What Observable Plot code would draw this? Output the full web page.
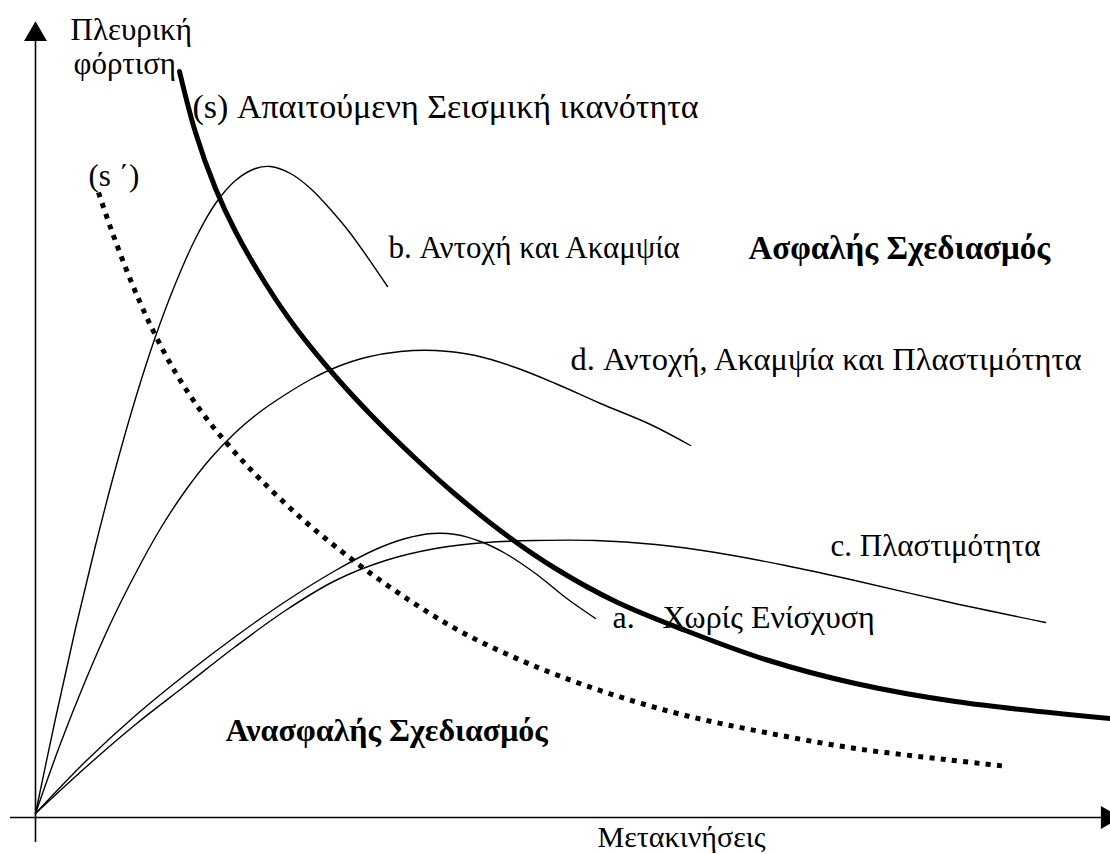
<!DOCTYPE html>
<html>
<head>
<meta charset="utf-8">
<script src="https://cdn.jsdelivr.net/npm/d3@7"></script>
<script src="https://cdn.jsdelivr.net/npm/@observablehq/plot@0.6"></script>
<style>
  html, body { margin: 0; padding: 0; background: #fff; }
</style>
</head>
<body>
<div id="chart"></div>
<script>
// Conceptual curves: displacement (x) vs lateral load (y), arbitrary units
const curveB = [[0,0],[20,95],[40,185],[60,268],[80,345],[100,415],[120,477],[140,530],[160,575],[180,610],[200,633],[220,645],[235,647],[255,640],[275,625],[295,604],[315,580],[352,527]];
const curveD = [[0,0],[25,70],[50,133],[75,190],[100,240],[125,285],[150,323],[175,355],[200,381],[225,402],[250,419],[275,434],[300,446],[330,456],[365,462],[400,463],[440,458],[480,446],[520,430],[565,410],[615,389],[655,368]];
const curveA = [[0,0],[50,52],[100,98],[150,139],[200,177],[250,212],[300,243],[340,264],[370,275],[397,280],[420,279],[445,272],[470,260],[500,240],[530,216],[560,195]];
const curveC = [[0,0],[50,46],[100,89],[150,128],[200,167],[250,203],[300,233],[350,253],[400,265],[450,271],[500,273],[560,273],[620,269],[680,261],[750,248],[815,234],[915,211],[1010,191]];
const demandS = [[144,742],[160,681],[180,625],[200,582],[230,530],[260,486],[300,437],[340,394],[380,355],[420,319],[470,279],[520,245],[580,212],[650,183],[730,154],[820,130],[920,112],[1075,95]];
const demandS2 = [[63,621],[75,586],[90,546],[105,510],[120,478],[140,441],[165,403],[195,366],[225,334],[265,296],[305,263],[345,233],[385,206],[425,182],[470,160],[520,139],[580,118],[650,98],[730,81],[820,65],[910,54],[972,47]];

const labelsNormal = [
  {x: 35, y: 774, text: "Πλευρική"},
  {x: 38, y: 740, text: "φόρτιση"},
  {x: 157, y: 696, text: "(s) Απαιτούμενη Σεισμική ικανότητα"},
  {x: 53, y: 628, text: "(s ΄)"},
  {x: 353, y: 556, text: "b. Αντοχή και Ακαμψία"},
  {x: 535, y: 444, text: "d. Αντοχή, Ακαμψία και Πλαστιμότητα"},
  {x: 795, y: 258, text: "c. Πλαστιμότητα"},
  {x: 577, y: 186, text: "a."},
  {x: 627, y: 186, text: "Χωρίς Ενίσχυση"},
  {x: 562, y: -33, text: "Μετακινήσεις"}
];
const labelsBold = [
  {x: 713, y: 555, text: "Ασφαλής Σχεδιασμός"},
  {x: 190, y: 73, text: "Ανασφαλής Σχεδιασμός"}
];

// presentation only: font size per label
const labelFontSize = {
  "Πλευρική": 31, "φόρτιση": 31,
  "(s) Απαιτούμενη Σεισμική ικανότητα": 34,
  "(s ΄)": 31,
  "b. Αντοχή και Ακαμψία": 31,
  "d. Αντοχή, Ακαμψία και Πλαστιμότητα": 32.5,
  "c. Πλαστιμότητα": 31,
  "a.": 32, "Χωρίς Ενίσχυση": 32,
  "Μετακινήσεις": 30,
  "Ασφαλής Σχεδιασμός": 33,
  "Ανασφαλής Σχεδιασμός": 32
};

const toXY = (arr) => arr.map(([x, y]) => ({x, y}));
const font = "Liberation Serif, Times New Roman, serif";

const thin = {x: "x", y: "y", curve: "catmull-rom", stroke: "black", strokeWidth: 1.4};

const chart = Plot.plot({
  width: 1110,
  height: 854,
  margin: 0,
  x: {domain: [-35, 1075], axis: null},
  y: {domain: [-41, 813], axis: null},
  style: {background: "#fff", color: "black"},
  marks: [
    // axes
    Plot.ruleX([0], {y1: -29, y2: 785, stroke: "black", strokeWidth: 1.6}),
    Plot.ruleY([-4], {x1: -25, x2: 1068, stroke: "black", strokeWidth: 1.6}),
    Plot.dot([{x: 0, y: 779}], {x: "x", y: "y", symbol: "triangle", r: 8.5, fill: "black", stroke: null}),
    Plot.dot([{x: 1072, y: -4}], {x: "x", y: "y", symbol: "triangle", r: 8.5, rotate: 90, fill: "black", stroke: null}),
    // capacity curves
    Plot.line(toXY(curveB), thin),
    Plot.line(toXY(curveD), thin),
    Plot.line(toXY(curveA), thin),
    Plot.line(toXY(curveC), thin),
    // demand curves
    Plot.line(toXY(demandS2), {x: "x", y: "y", curve: "catmull-rom", stroke: "black", strokeWidth: 5, strokeDasharray: "5,6.3", strokeLinecap: "butt"}),
    Plot.line(toXY(demandS), {x: "x", y: "y", curve: "catmull-rom", stroke: "black", strokeWidth: 5}),
    // labels
    Plot.text(labelsNormal, {x: "x", y: "y", text: "text", textAnchor: "start", lineAnchor: "bottom", fontSize: (d) => labelFontSize[d.text], fontFamily: font, fill: "black"}),
    Plot.text(labelsBold, {x: "x", y: "y", text: "text", textAnchor: "start", lineAnchor: "bottom", fontSize: (d) => labelFontSize[d.text], fontFamily: font, fontWeight: "bold", fill: "black"})
  ]
});
document.getElementById("chart").appendChild(chart);
</script>
</body>
</html>
